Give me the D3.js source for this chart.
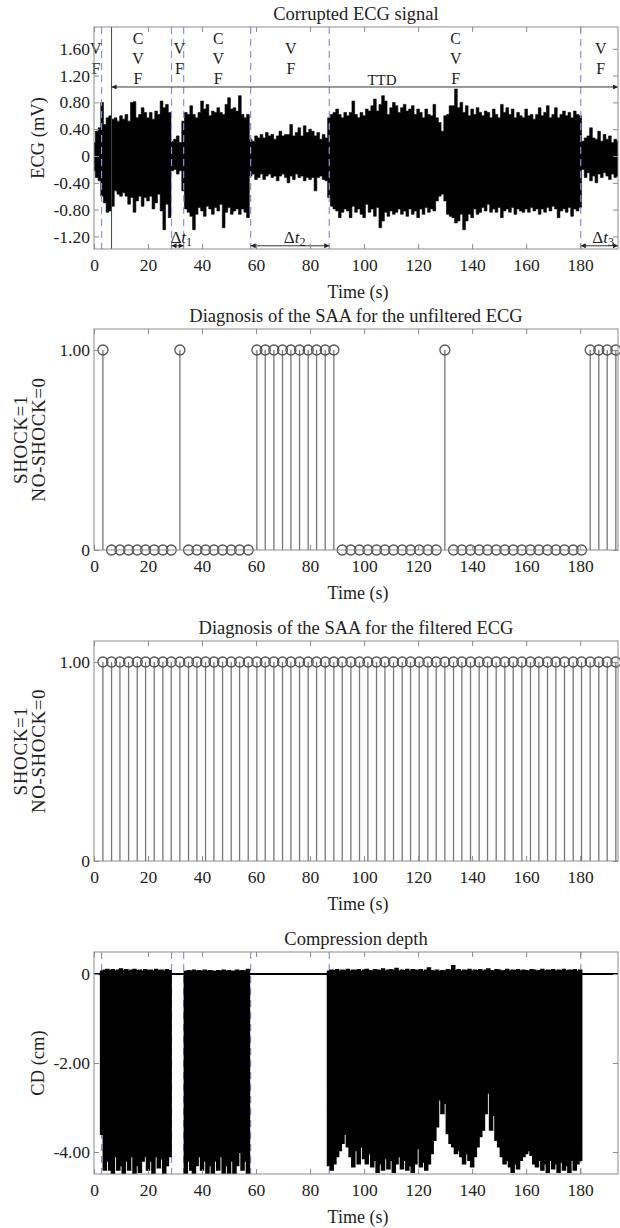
<!DOCTYPE html>
<html>
<head>
<meta charset="utf-8">
<script src="https://cdn.jsdelivr.net/npm/d3@7"></script>
<style>
  body { margin: 0; background: #fff; }
  svg { display: block; }
  text { font-family: "Liberation Serif", "Times New Roman", serif; fill: #222; }
</style>
</head>
<body>
<div id="chart"></div>
<script>
// ---- data ----
let timeTicks = [0, 20, 40, 60, 80, 100, 120, 140, 160, 180];
let ecgTicks = [-1.2, -0.8, -0.4, 0, 0.4, 0.8, 1.2, 1.6];
let diagTicks = [0, 1];
let cdTicks = [-4, -2, 0];

// rhythm changes (s) and labels above the ECG
let rhythmBounds = [2.8, 28.7, 33.2, 58.0, 87.1, 180.2];
let rhythmLabelTimes = [0.7, 16.3, 31.6, 46.0, 72.9, 133.9, 187.6];
let rhythmLabelText = ["VF", "CVF", "VF", "CVF", "VF", "CVF", "VF"];
let ttdSpan = [6.5, 194];
let deltaSpans = [[28.7, 33.2], [58.0, 87.1], [180.2, 194]];
let deltaLabelTimes = [32.3, 74.3, 188.5];
let deltaNames = ["1", "2", "3"];

// ECG envelope, one max / min per second (mV), t = 0..194
let ecgMax = [
  0.20,0.37,0.42,0.80,0.47,0.57,0.60,0.55,0.57,0.52,
  0.60,0.55,0.62,0.52,0.80,0.81,0.57,0.62,0.72,0.65,
  0.57,0.65,0.55,0.67,0.62,0.82,0.72,0.77,0.65,0.22,
  0.25,0.30,0.20,0.52,0.65,0.62,0.75,0.62,0.57,0.65,
  0.82,0.70,0.77,0.60,0.67,0.65,0.72,0.65,0.62,0.77,
  0.87,0.70,0.72,0.67,0.90,0.62,0.57,0.62,0.25,0.22,
  0.30,0.27,0.32,0.27,0.35,0.30,0.32,0.25,0.30,0.37,
  0.30,0.32,0.32,0.47,0.30,0.35,0.42,0.30,0.45,0.35,
  0.40,0.37,0.30,0.35,0.25,0.32,0.27,0.57,0.62,0.65,
  0.70,0.62,0.57,0.65,0.60,0.65,0.82,0.62,0.57,0.65,
  0.60,0.70,0.67,0.75,0.85,0.67,0.77,0.90,0.82,0.62,
  0.72,0.80,0.75,0.65,0.72,0.77,0.67,0.70,0.75,0.62,
  0.70,0.65,0.57,0.70,0.62,0.60,0.77,0.57,0.50,0.37,
  0.60,0.62,0.75,0.75,1.00,0.72,0.80,0.65,0.75,0.60,
  0.70,0.62,0.72,0.65,0.60,0.67,0.65,0.57,0.70,0.62,
  0.57,0.77,0.65,0.72,0.62,0.70,0.57,0.65,0.60,0.57,
  0.70,0.60,0.62,0.55,0.62,0.72,0.60,0.65,0.75,0.57,
  0.62,0.72,0.57,0.62,0.67,0.60,0.65,0.57,0.67,0.62,
  0.60,0.22,0.27,0.30,0.42,0.27,0.25,0.37,0.22,0.32,
  0.25,0.30,0.20,0.25,0.22
];
let ecgMin = [
  -0.22,-0.32,-0.37,-0.60,-0.70,-0.84,-0.82,-0.75,-0.52,-0.57,
  -0.60,-0.55,-0.60,-0.72,-0.62,-0.84,-0.67,-0.60,-0.75,-0.62,
  -0.67,-0.60,-0.79,-0.70,-0.57,-0.82,-1.10,-0.72,-0.92,-0.22,
  -0.20,-0.27,-0.22,-0.52,-0.79,-0.84,-0.90,-1.10,-0.87,-0.77,
  -0.82,-0.90,-0.75,-0.79,-0.87,-0.77,-0.82,-0.72,-1.07,-0.84,
  -0.77,-0.87,-0.82,-0.79,-0.87,-0.79,-0.84,-0.92,-0.30,-0.27,
  -0.35,-0.32,-0.27,-0.35,-0.30,-0.27,-0.32,-0.30,-0.37,-0.30,
  -0.27,-0.32,-0.40,-0.30,-0.35,-0.27,-0.32,-0.30,-0.37,-0.32,
  -0.35,-0.32,-0.52,-0.32,-0.30,-0.35,-0.37,-0.62,-0.75,-0.79,
  -0.82,-0.92,-0.84,-0.79,-0.82,-0.92,-0.75,-0.84,-0.79,-0.87,
  -0.92,-0.72,-0.84,-0.79,-0.90,-0.77,-1.07,-0.97,-0.84,-0.90,
  -0.82,-0.87,-0.84,-0.79,-0.87,-0.82,-0.90,-0.79,-0.87,-0.82,
  -0.92,-0.79,-0.87,-0.77,-0.84,-0.79,-0.82,-0.67,-0.60,-0.57,
  -0.67,-0.87,-0.90,-0.92,-1.00,-0.97,-0.87,-1.10,-0.97,-0.87,
  -0.92,-0.79,-0.87,-0.84,-0.77,-0.82,-0.72,-0.84,-0.79,-0.84,
  -0.77,-0.92,-0.82,-0.79,-0.84,-0.77,-0.87,-0.79,-0.82,-0.84,
  -0.79,-0.84,-0.77,-0.82,-0.79,-0.87,-0.79,-0.84,-0.77,-0.82,
  -0.75,-0.79,-0.92,-0.82,-0.79,-0.84,-0.77,-0.90,-0.79,-0.82,
  -0.77,-0.20,-0.32,-0.25,-0.37,-0.30,-0.40,-0.27,-0.32,-0.25,
  -0.30,-0.35,-0.27,-0.32,-0.30
];

// SAA decisions, one per analysis window
let diagTimes = [
  3.3, 6.5, 9.6, 12.8, 16.0, 19.1, 22.3, 25.5, 28.6, 31.8,
  35.0, 38.1, 41.3, 44.4, 47.6, 50.8, 53.9, 57.1, 60.3, 63.4,
  66.6, 69.8, 72.9, 76.1, 79.3, 82.4, 85.6, 88.8, 91.9, 95.1,
  98.3, 101.4, 104.6, 107.7, 110.9, 114.1, 117.2, 120.4, 123.6, 126.7,
  129.9, 133.1, 136.2, 139.4, 142.6, 145.7, 148.9, 152.1, 155.2, 158.4,
  161.6, 164.7, 167.9, 171.0, 174.2, 177.4, 180.5, 183.7, 186.9, 190.0,
  193.2
];
let diagUnfiltered = [
  1,0,0,0,0,0,0,0,0,1,
  0,0,0,0,0,0,0,0,1,1,
  1,1,1,1,1,1,1,1,0,0,
  0,0,0,0,0,0,0,0,0,0,
  1,0,0,0,0,0,0,0,0,0,
  0,0,0,0,0,0,0,1,1,1,
  1
];
let diagFiltered = [
  1,1,1,1,1,1,1,1,1,1,
  1,1,1,1,1,1,1,1,1,1,
  1,1,1,1,1,1,1,1,1,1,
  1,1,1,1,1,1,1,1,1,1,
  1,1,1,1,1,1,1,1,1,1,
  1,1,1,1,1,1,1,1,1,1,
  1
];

// compression depth envelope, one max / min per second (cm), t = 0..194
let cdMax = [
  0,0,0,0.06,0.08,0.10,0.07,0.09,0.06,0.08,
  0.11,0.07,0.09,0.06,0.08,0.10,0.07,0.08,0.06,0.09,
  0.07,0.08,0.06,0.10,0.07,0.08,0.06,0.09,0.07,0,
  0,0,0,0,0.05,0.07,0.06,0.08,0.06,0.07,
  0.05,0.08,0.06,0.07,0.06,0.05,0.07,0.06,0.08,0.06,
  0.07,0.05,0.06,0.08,0.06,0.07,0.06,0.10,0,0,
  0,0,0,0,0,0,0,0,0,0,
  0,0,0,0,0,0,0,0,0,0,
  0,0,0,0,0,0,0,0.06,0.08,0.07,
  0.09,0.06,0.08,0.07,0.10,0.06,0.08,0.07,0.09,0.06,
  0.08,0.10,0.07,0.06,0.09,0.08,0.07,0.11,0.06,0.08,
  0.09,0.07,0.12,0.06,0.08,0.07,0.10,0.06,0.09,0.08,
  0.07,0.09,0.06,0.08,0.13,0.07,0.06,0.08,0.05,0.07,
  0.06,0.09,0.08,0.18,0.07,0.09,0.06,0.08,0.07,0.10,
  0.06,0.08,0.07,0.09,0.06,0.08,0.11,0.07,0.06,0.09,
  0.08,0.06,0.07,0.10,0.06,0.08,0.07,0.09,0.06,0.08,
  0.07,0.06,0.09,0.08,0.06,0.07,0.10,0.06,0.08,0.07,
  0.09,0.06,0.08,0.07,0.10,0.06,0.08,0.07,0.09,0.06,
  0.08,0,0,0,0,0,0,0,0,0,
  0,0,0,0,0
];
let cdMin = [
  0,0,0,-3.6,-4.4,-4.2,-4.4,-4.5,-4.1,-4.4,
  -4.3,-4.5,-4.2,-4.4,-4.1,-4.5,-4.3,-4.45,-4.2,-4.1,
  -4.4,-4.2,-4.5,-4.1,-4.35,-4.15,-4.5,-4.3,-4.1,0,
  0,0,0,0,-4.5,-4.2,-4.4,-4.5,-4.3,-4.1,
  -4.4,-4.2,-4.5,-4.3,-4.5,-4.2,-4.4,-4.1,-4.5,-4.3,
  -4.5,-4.2,-4.5,-4.3,-4.0,-4.4,-4.2,-4.5,0,0,
  0,0,0,0,0,0,0,0,0,0,
  0,0,0,0,0,0,0,0,0,0,
  0,0,0,0,0,0,0,-4.3,-4.4,-4.26,
  -4.1,-3.96,-3.8,-3.6,-3.88,-4.1,-4.33,-3.96,-4.26,-3.88,
  -4.14,-4.26,-4.03,-4.33,-4.18,-4.45,-4.26,-4.4,-4.14,-4.37,
  -4.18,-4.45,-4.26,-4.1,-4.37,-4.18,-4.4,-4.3,-4.45,-4.26,
  -3.92,-4.33,-4.22,-4.4,-4.26,-4.03,-3.73,-3.43,-2.82,-3.13,
  -2.9,-3.58,-3.8,-3.88,-4.03,-3.96,-4.1,-4.26,-4.03,-4.18,
  -4.33,-4.1,-3.88,-3.65,-3.5,-3.13,-2.67,-3.5,-3.17,-3.73,
  -3.88,-4.1,-4.26,-4.18,-4.33,-4.45,-4.26,-4.37,-4.18,-4.1,
  -4.03,-3.96,-4.07,-4.26,-4.33,-4.18,-4.4,-4.26,-4.45,-4.18,
  -4.37,-4.26,-4.45,-4.22,-4.4,-4.3,-4.45,-4.18,-4.4,-4.26,
  -4.18,0,0,0,0,0,0,0,0,0,
  0,0,0,0,0
];

// ---- layout ----
let svgWidth = 620;
let svgHeight = 1228;
let plotLeft = 94;
let plotRight = 618;

let svg = d3.select("#chart")
  .append("svg")
  .attr("width", svgWidth)
  .attr("height", svgHeight);

svg.append("rect").attr("width", svgWidth).attr("height", svgHeight).attr("fill", "#fff");

// arrow head for the TTD and delta-t spans
let defs = svg.append("defs");
defs.append("marker")
  .attr("id", "arrow")
  .attr("viewBox", "0 0 10 10")
  .attr("refX", 10)
  .attr("refY", 5)
  .attr("markerUnits", "userSpaceOnUse")
  .attr("markerWidth", 6)
  .attr("markerHeight", 5)
  .attr("orient", "auto-start-reverse")
  .append("path")
  .attr("d", "M0,0L10,5L0,10z")
  .attr("fill", "#222");

let xScale = d3.scaleLinear().domain([0, 194]).range([plotLeft, plotRight]);

function tickFmt(v) {
  return v === 0 ? "0" : v.toFixed(2);
}

// sets up one subplot: scale, clip area and a function to draw the frame on top
function makePanel(top, bottom, yDomain, yTicks, title) {
  let y = d3.scaleLinear().domain(yDomain).range([bottom, top]);
  let clipId = "clip" + top;
  defs.append("clipPath").attr("id", clipId)
    .append("rect")
    .attr("x", plotLeft).attr("y", top)
    .attr("width", plotRight - plotLeft).attr("height", bottom - top);

  let plot = svg.append("g").attr("clip-path", `url(#${clipId})`);
  let over = svg.append("g");

  function finish() {
    let axes = svg.append("g");
    axes.append("rect")
      .attr("x", plotLeft).attr("y", top)
      .attr("width", plotRight - plotLeft).attr("height", bottom - top)
      .attr("fill", "none").attr("stroke", "#8c8c8c").attr("stroke-width", 1);

    let xb = axes.append("g").attr("transform", `translate(0,${bottom})`)
      .call(d3.axisBottom(xScale).tickValues(timeTicks).tickSizeInner(-5).tickSizeOuter(0)
        .tickPadding(10).tickFormat(d3.format("d")));
    let xt = axes.append("g").attr("transform", `translate(0,${top})`)
      .call(d3.axisTop(xScale).tickValues(timeTicks).tickSizeInner(-5).tickSizeOuter(0).tickFormat(""));
    let yl = axes.append("g").attr("transform", `translate(${plotLeft},0)`)
      .call(d3.axisLeft(y).tickValues(yTicks).tickSizeInner(-5).tickSizeOuter(0)
        .tickPadding(4).tickFormat(tickFmt));
    let yr = axes.append("g").attr("transform", `translate(${plotRight},0)`)
      .call(d3.axisRight(y).tickValues(yTicks).tickSizeInner(-5).tickSizeOuter(0).tickFormat(""));

    [xb, xt, yl, yr].forEach(a => {
      a.select(".domain").remove();
      a.selectAll("line").attr("stroke", "#8c8c8c");
      a.selectAll("text").attr("font-size", 17.5).attr("fill", "#3a3a3a");
    });

    // title and x label
    axes.append("text")
      .attr("x", (plotLeft + plotRight) / 2).attr("y", top - 7)
      .attr("text-anchor", "middle").attr("font-size", 18.5)
      .text(title);
    axes.append("text")
      .attr("x", 358).attr("y", bottom + 49)
      .attr("text-anchor", "middle").attr("font-size", 18)
      .text("Time (s)");
  }

  return { y: y, plot: plot, over: over, top: top, bottom: bottom, finish: finish };
}

function drawBounds(p) {
  p.plot.selectAll(".bound")
    .data(rhythmBounds)
    .enter()
    .append("line")
    .attr("class", "bound")
    .attr("x1", d => xScale(d)).attr("x2", d => xScale(d))
    .attr("y1", p.top).attr("y2", p.bottom)
    .attr("stroke", "#8a93d6")
    .attr("stroke-width", 1.2)
    .attr("stroke-dasharray", "7,5");
}

function drawStems(p, values) {
  let stems = p.over.selectAll(".stem")
    .data(values)
    .enter()
    .append("g")
    .attr("class", "stem");
  stems.append("line")
    .attr("x1", (d, i) => xScale(diagTimes[i]))
    .attr("x2", (d, i) => xScale(diagTimes[i]))
    .attr("y1", p.y(0))
    .attr("y2", d => p.y(d))
    .attr("stroke", "#777")
    .attr("stroke-width", 1.3);
  stems.append("circle")
    .attr("cx", (d, i) => xScale(diagTimes[i]))
    .attr("cy", d => p.y(d))
    .attr("r", 5)
    .attr("fill", "none")
    .attr("stroke", "#555")
    .attr("stroke-width", 1.3);
}

// ---- panel 1: corrupted ECG ----
let p1 = makePanel(27, 249, [-1.388, 1.925], ecgTicks, "Corrupted ECG signal");

let ecgArea = d3.area()
  .x((d, i) => xScale(i))
  .y0((d, i) => p1.y(ecgMin[i]))
  .y1(d => p1.y(d))
  .curve(d3.curveStep);

p1.plot.append("path")
  .datum(ecgMax)
  .attr("d", ecgArea)
  .attr("fill", "#000")
  .attr("stroke", "#000")
  .attr("stroke-width", 0.6);

drawBounds(p1);

// start of TTD
p1.plot.append("line")
  .attr("x1", xScale(ttdSpan[0])).attr("x2", xScale(ttdSpan[0]))
  .attr("y1", p1.top).attr("y2", p1.bottom)
  .attr("stroke", "#444").attr("stroke-width", 1);

p1.over.append("line")
  .attr("x1", xScale(ttdSpan[0])).attr("x2", xScale(ttdSpan[1]))
  .attr("y1", p1.y(1.03)).attr("y2", p1.y(1.03))
  .attr("stroke", "#333").attr("stroke-width", 1)
  .attr("marker-start", "url(#arrow)").attr("marker-end", "url(#arrow)");

p1.over.append("text")
  .attr("x", 382).attr("y", p1.y(1.03) - 2)
  .attr("text-anchor", "middle").attr("font-size", 15)
  .text("TTD");

// rhythm letters stacked vertically
rhythmLabelText.forEach((lab, i) => {
  let letters = lab.split("");
  let rows = letters.length === 3 ? [44, 64, 84] : [54, 74];
  letters.forEach((ch, j) => {
    p1.over.append("text")
      .attr("x", xScale(rhythmLabelTimes[i]))
      .attr("y", rows[j])
      .attr("text-anchor", "middle")
      .attr("font-size", 16)
      .text(ch);
  });
});

// delta-t spans at the bottom
deltaSpans.forEach((s, i) => {
  p1.over.append("line")
    .attr("x1", xScale(s[0])).attr("x2", xScale(s[1]))
    .attr("y1", p1.y(-1.34)).attr("y2", p1.y(-1.34))
    .attr("stroke", "#333").attr("stroke-width", 1)
    .attr("marker-start", "url(#arrow)").attr("marker-end", "url(#arrow)");
  let t = p1.over.append("text")
    .attr("x", xScale(deltaLabelTimes[i]))
    .attr("y", 243)
    .attr("text-anchor", "middle")
    .attr("font-size", 17);
  t.append("tspan").text("Δ");
  t.append("tspan").attr("font-style", "italic").text("t");
  t.append("tspan").attr("font-size", 12).attr("dy", 3).text(deltaNames[i]);
});

p1.finish();

svg.append("text")
  .attr("transform", "translate(44,138) rotate(-90)")
  .attr("text-anchor", "middle").attr("font-size", 18.5)
  .text("ECG (mV)");

// ---- panel 2 and 3: SAA diagnosis ----
let p2 = makePanel(329, 550, [0, 1.105], diagTicks, "Diagnosis of the SAA for the unfiltered ECG");
drawStems(p2, diagUnfiltered);
p2.finish();

let p3 = makePanel(641, 861, [0, 1.1055], diagTicks, "Diagnosis of the SAA for the filtered ECG");
drawStems(p3, diagFiltered);
p3.finish();

[p2, p3].forEach(p => {
  let mid = (p.top + p.bottom) / 2;
  svg.append("text")
    .attr("transform", `translate(27,${mid}) rotate(-90)`)
    .attr("text-anchor", "middle").attr("font-size", 19)
    .attr("letter-spacing", 0.6)
    .text("SHOCK=1");
  svg.append("text")
    .attr("transform", `translate(45,${mid}) rotate(-90)`)
    .attr("text-anchor", "middle").attr("font-size", 19)
    .attr("letter-spacing", 0.6)
    .text("NO-SHOCK=0");
});

// ---- panel 4: compression depth ----
let p4 = makePanel(952, 1174, [-4.494, 0.494], cdTicks, "Compression depth");

let cdArea = d3.area()
  .x((d, i) => xScale(i))
  .y0((d, i) => p4.y(cdMin[i]))
  .y1(d => p4.y(d))
  .curve(d3.curveStep);

drawBounds(p4);

p4.plot.append("path")
  .datum(cdMax)
  .attr("d", cdArea)
  .attr("fill", "#000")
  .attr("stroke", "#000")
  .attr("stroke-width", 1.8);

p4.finish();

svg.append("text")
  .attr("transform", "translate(44,1063) rotate(-90)")
  .attr("text-anchor", "middle").attr("font-size", 18.5)
  .text("CD (cm)");
</script>
</body>
</html>
